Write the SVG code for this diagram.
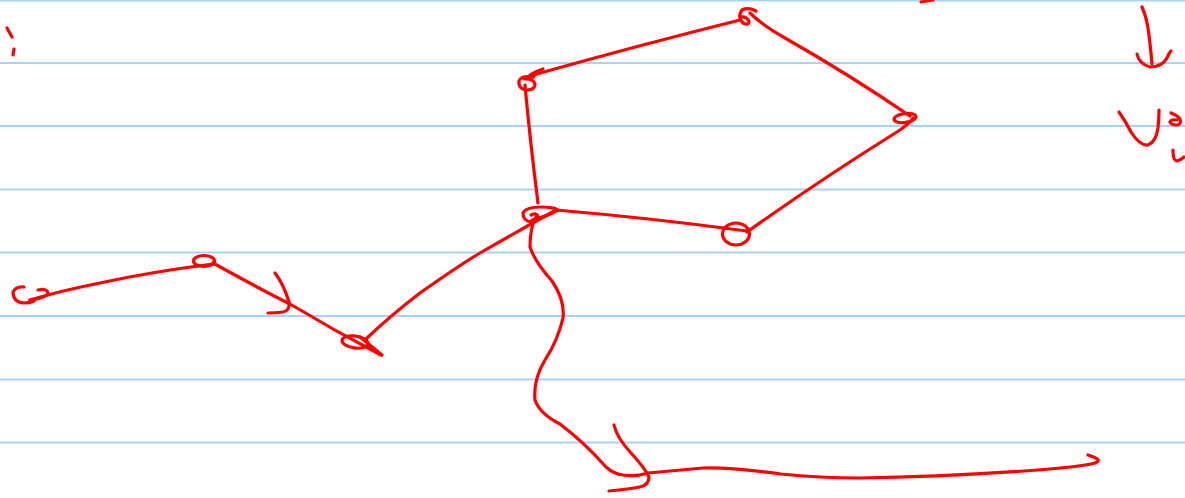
<svg xmlns="http://www.w3.org/2000/svg" width="1185" height="498" viewBox="0 0 1185 498">
<style>
.rule{stroke:#a8d2fa;stroke-width:2;fill:none}
.ink{stroke:#ff0000;stroke-width:3.2;fill:none;stroke-linecap:round;stroke-linejoin:round}
</style>
<rect width="1185" height="498" fill="#ffffff"/>
<g id="paper">
<line class="rule" x1="0" y1="0.5" x2="1185" y2="0.5"/>
<line class="rule" x1="0" y1="63" x2="1185" y2="63"/>
<line class="rule" x1="0" y1="126" x2="1185" y2="126"/>
<line class="rule" x1="0" y1="189.5" x2="1185" y2="189.5"/>
<line class="rule" x1="0" y1="252.5" x2="1185" y2="252.5"/>
<line class="rule" x1="0" y1="316" x2="1185" y2="316"/>
<line class="rule" x1="0" y1="379.5" x2="1185" y2="379.5"/>
<line class="rule" x1="0" y1="442.5" x2="1185" y2="442.5"/>
</g>
<g id="marks">
<path class="ink" d="M7,28 L12,37"/>
<path class="ink" d="M14,49 L13,55"/>
<path class="ink" d="M921,2 L933,0"/>
<path class="ink" d="M1142,7 Q1147,18 1149,35 Q1151,52 1152,64"/>
<path class="ink" d="M1137,54 Q1139,64 1150,67 Q1162,67 1167,58 Q1169,53 1171,51"/>
<path class="ink" d="M1119,112 Q1126,122 1131,132 Q1140,146 1148,145 Q1156,142 1158,128 Q1159,118 1159,110"/>
<path class="ink" d="M1171,113 Q1177,115 1180,119 Q1182,124 1177,125 Q1171,125 1170,122 Q1171,119 1177,120"/>
<path class="ink" d="M1173,150 Q1173,161 1177,161 Q1181,160 1184,157"/>
</g>
<g id="connectors">
<path class="ink" d="M30,300 Q60,291 100,283 Q150,272 213,264"/>
<path class="ink" d="M213,263 Q260,289 290,304 Q335,331 381,355"/>
<path class="ink" d="M275,273 Q284,285 289,302 Q290,311 283,312 Q275,313 268,313"/>
<path class="ink" d="M366,339 Q390,316 420,293 Q460,265 480,253 Q520,230 556,210"/>
<path class="ink" d="M556,210 Q650,218 747,231"/>
<path class="ink" d="M747,232 Q820,180 900,130 Q910,123 913,118"/>
<path class="ink" d="M750,13 Q762,25 785,38 Q850,75 910,116"/>
<path class="ink" d="M740,20 Q640,45 533,75"/>
<path class="ink" d="M530,75 Q536,71 543,69"/>
<path class="ink" d="M525,85 Q530,140 538,203"/>
<path class="ink" d="M537,215 Q530,226 530,247 Q535,262 552,281 Q565,300 563,318 Q558,340 545,360 Q533,380 535,400 Q540,414 560,424 Q585,443 606,467 Q614,474 623,475 Q635,477 648,473 Q680,470 703,468 Q728,467 781,474 Q820,478 860,478 Q935,477 1024,471 Q1081,467 1095,463 Q1104,460 1088,455"/>
<path class="ink" d="M614,425 Q617,438 631,453 Q645,468 649,477 Q649,485 640,487 Q630,489 609,491"/>
</g>
<g id="node-start">
<path class="ink" d="M24,287 Q16,286 13,292 Q13,302 24,303 Q30,303 34,301"/>
<path class="ink" d="M38,290 Q47,288 48,293 Q46,298 30,300"/>
</g>
<g id="node-a">
<ellipse class="ink" cx="204" cy="261" rx="10.5" ry="5.5"/>
</g>
<g id="node-b">
<ellipse class="ink" cx="355" cy="342" rx="13" ry="6" transform="rotate(8 355 342)"/>
<path class="ink" d="M360,337 L382,355 L368,347"/>
</g>
<g id="node-center">
<path class="ink" d="M541,207 Q526,207 523,213 Q523,221 531,222 Q538,222 538,217 Q537,212 531,215 M541,207 Q554,207 558,210 Q546,217 532,220"/>
</g>
<g id="node-left">
<path class="ink" d="M534,77 Q521,75 519,81 Q518,89 527,90 Q535,90 535,84 Q533,78 524,79"/>
</g>
<g id="node-top">
<path class="ink" d="M756,11 Q748,7 742,10 Q737,17 743,23 Q749,26 749,21 Q746,16 741,17"/>
</g>
<g id="node-right">
<ellipse class="ink" cx="905" cy="118" rx="11" ry="4.5" transform="rotate(-8 905 118)"/>
</g>
<g id="node-bottom-right">
<ellipse class="ink" cx="736" cy="234" rx="13.5" ry="11"/>
</g>
</svg>
